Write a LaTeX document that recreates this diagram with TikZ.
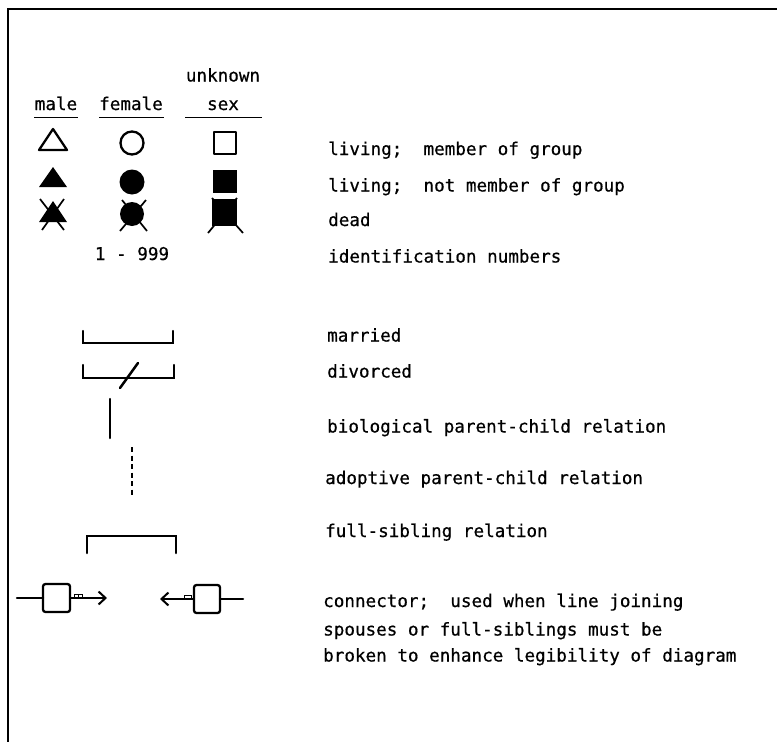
\documentclass[tikz,border=0pt]{standalone}
\usepackage{fontspec}
\setmonofont[FakeBold=0.6]{DejaVu Sans Mono}
\usetikzlibrary{arrows.meta}
\begin{document}
\begin{tikzpicture}[x=1pt,y=-1pt,
  lbl/.style={inner sep=0pt,anchor=base west,font=\fontsize{17.6}{20}\ttfamily},
  hdr/.style={inner sep=0pt,anchor=base,font=\fontsize{17.6}{20}\ttfamily},
  sym/.style={line width=2.3pt,line join=round,line cap=round},
  rel/.style={line width=2.5pt,line cap=round},
  frame/.style={line width=2.6pt},
  barb/.style={line width=2pt,-{Straight Barb[length=7pt,width=13pt,line width=2pt]}}]
\useasboundingbox (0,0) rectangle (777,742);
% frame
\draw[frame] (8,742) -- (8,9) -- (777,9);
% headers
\node[hdr] (unk) at (223,81.5) {unknown};
\node[hdr] (male) at (56,110) {male};
\node[hdr] (female) at (131,110) {female};
\node[hdr] (sex) at (223,110) {sex};
\draw[line width=1.7pt] (34,117.5) -- (78,117.5);
\draw[line width=1.7pt] (99,117.5) -- (164,117.5);
\draw[line width=1.7pt] (185,117.5) -- (262,117.5);
% row 1 living member
\draw[sym] (39,150) -- (67,150) -- (53,129) -- cycle;
\draw[sym] (132,143) circle (11.5);
\draw[sym] (214,132) rectangle (236,154);
% row 2 living not member
\fill[sym] (39,187) -- (67,187) -- (53,167) -- cycle;
\fill (132,182) circle (12.5);
\fill (213,170) rectangle (237,193);
% row 3 dead
\fill[sym] (39,222) -- (67,222) -- (53,201) -- cycle;
\draw[line width=1.7pt] (40,199) -- (64,230) (64,199) -- (42,230);
\fill (132,214) circle (12);
\draw[line width=1.7pt] (122,200) -- (147,231) (146,200) -- (120,231);
\fill (212,199) rectangle (237,226);
\draw[line width=1.7pt] (212,198) -- (243,233) (237,198) -- (208,233);
\node[hdr] (ids) at (132,260) {1 - 999};
% labels
\node[lbl] (l1) at (328,155) {living;~~member of group};
\node[lbl] (l2) at (328,191.5) {living;~~not member of group};
\node[lbl] (l3) at (328,226) {dead};
\node[lbl] (l4) at (328,262.5) {identification numbers};
\node[lbl] (l5) at (327,341.5) {married};
\node[lbl] (l6) at (327,377.5) {divorced};
\node[lbl] (l7) at (327,432.5) {biological parent-child relation};
\node[lbl] (l8) at (325,484) {adoptive parent-child relation};
\node[lbl] (l9) at (325,537) {full-sibling relation};
\node[lbl] (l10) at (323,607) {connector;~~used when line joining};
\node[lbl] (l11) at (323,635.5) {spouses or full-siblings must be};
\node[lbl] (l12) at (323,661.5) {broken to enhance legibility of diagram};
% married
\draw[rel] (83,331) -- (83,343) -- (173,343) -- (173,331);
% divorced
\draw[rel] (83,365) -- (83,378) -- (174,378) -- (174,365);
\draw[rel] (120,388) -- (138,363);
% biological
\draw[rel] (110,399) -- (110,438);
% adoptive
\draw[rel,line cap=butt,dash pattern=on 5pt off 3.5pt] (132,447) -- (132,496);
% full sibling
\draw[rel] (87,553) -- (87,536) -- (176,536) -- (176,553);
% connectors
\coordinate (lt) at (107,598);
\coordinate (rt) at (160,599);
\draw[rel] (17,598) -- (43,598);
\draw[sym,rounded corners=2.5pt] (43,584) rectangle (70,612);
\draw[barb] (70,598) -- (lt);
\draw[line width=0.8pt] (74,598) -- (74,594.5) -- (82,594.5) -- (82,598) (78,594.5) -- (78,598);
\draw[rel] (220,599) -- (243,599);
\draw[sym,rounded corners=2.5pt] (194,585) rectangle (220,613);
\draw[barb] (194,599) -- (rt);
\draw[line width=0.8pt] (184,599) -- (184,595) -- (191,595) -- (191,599);
\end{tikzpicture}
\end{document}
